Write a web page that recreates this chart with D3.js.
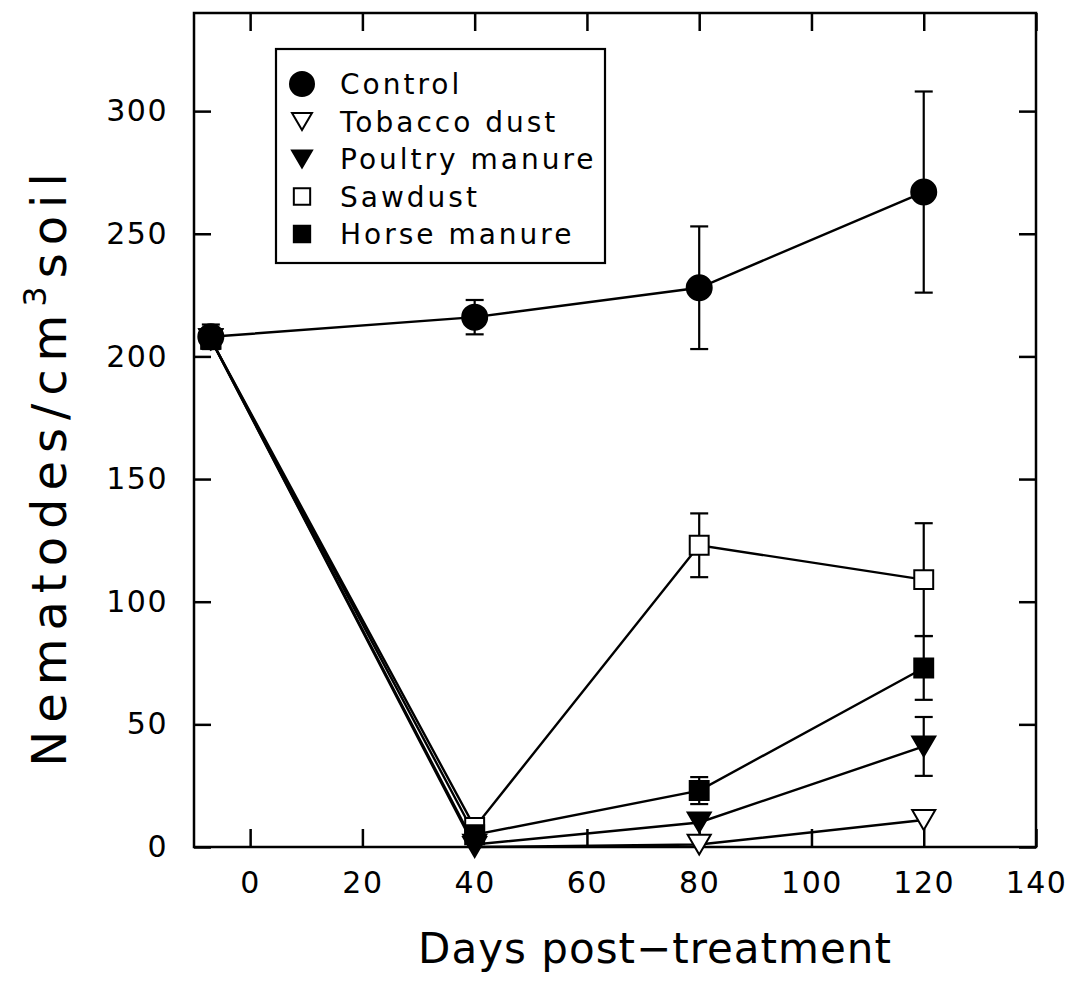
<!DOCTYPE html>
<html lang="en">
<head>
  <meta charset="UTF-8" />
  <title>Nematodes post-treatment</title>
  <script src="https://d3js.org/d3.v7.min.js"></script>
  <style>
    body { margin: 0; background: #fff; }
    svg { display: block; font-family: "DejaVu Sans", sans-serif; }
  </style>
</head>
<body>
  <svg id="chart" width="1073" height="985"></svg>

  <script>
    // values
    const days = [-7, 40, 80, 120];
    const xTicks = [0, 20, 40, 60, 80, 100, 120, 140];
    const yTicks = [0, 50, 100, 150, 200, 250, 300];

    const controlVals = [208, 216, 228, 267];
    const controlErr = [5, 7, 25, 41];
    const tobaccoVals = [207, 0, 1, 11];
    const tobaccoErr = [0, 0, 0, 0];
    const poultryVals = [207, 1, 10, 41];
    const poultryErr = [0, 0, 0, 12];
    const sawdustVals = [207, 8, 123, 109];
    const sawdustErr = [0, 0, 13, 23];
    const horseVals = [207, 5, 23, 73];
    const horseErr = [0, 0, 5.5, 13];

    const seriesNames = ['Control', 'Tobacco dust', 'Poultry manure', 'Sawdust', 'Horse manure'];
    const seriesShapes = ['circle', 'triOpen', 'triFill', 'sqOpen', 'sqFill'];
    const drawOrder = [1, 3, 4, 2, 0];

    const series = [
      { vals: controlVals, err: controlErr },
      { vals: tobaccoVals, err: tobaccoErr },
      { vals: poultryVals, err: poultryErr },
      { vals: sawdustVals, err: sawdustErr },
      { vals: horseVals, err: horseErr }
    ].map((s, i) => ({ ...s, name: seriesNames[i], shape: seriesShapes[i] }));

    const svg = d3.select('#chart');
    const plotLeft = 194, plotRight = 1036, plotTop = 13, plotBottom = 847;

    const x = d3.scaleLinear().domain([-10, 140]).range([plotLeft, plotRight]);
    const y = d3.scaleLinear().domain([0, 340]).range([plotBottom, plotTop]);

    function markerPath(shape, s) {
      if (shape === 'circle') return d3.symbol(d3.symbolCircle, Math.PI * s * s / 4)();
      if (shape.startsWith('tri')) {
        const w = s * 1.05, h = s * 0.9;
        return `M${-w / 2},${-h / 2}L${w / 2},${-h / 2}L0,${h / 2}Z`;
      }
      const h = s * 0.43;
      return `M${-h},${-h}H${h}V${h}H${-h}Z`;
    }
    const isOpen = shape => shape.endsWith('Open');

    // axes (ticks point inward)
    const fontAxis = 30;
    svg.append('g')
      .attr('transform', `translate(0,${plotBottom})`)
      .call(d3.axisBottom(x).tickValues(xTicks).tickSize(-18).tickPadding(25))
      .call(g => g.select('.domain').remove());
    svg.append('g')
      .attr('transform', `translate(0,${plotTop})`)
      .call(d3.axisTop(x).tickValues(xTicks).tickSize(-18).tickFormat(''))
      .call(g => g.select('.domain').remove());
    svg.append('g')
      .attr('transform', `translate(${plotLeft},0)`)
      .call(d3.axisLeft(y).tickValues(yTicks).tickSize(-17).tickPadding(26))
      .call(g => g.select('.domain').remove());
    svg.append('g')
      .attr('transform', `translate(${plotRight},0)`)
      .call(d3.axisRight(y).tickValues(yTicks).tickSize(-17).tickFormat(''))
      .call(g => g.select('.domain').remove());

    svg.selectAll('.tick line').attr('stroke', '#000').attr('stroke-width', 2.5);
    svg.selectAll('.tick text')
      .attr('font-size', fontAxis)
      .attr('font-family', '"DejaVu Sans", sans-serif')
      .attr('fill', '#000')
      .style('letter-spacing', '1.5px');

    svg.append('rect')
      .attr('x', plotLeft).attr('y', plotTop)
      .attr('width', plotRight - plotLeft).attr('height', plotBottom - plotTop)
      .attr('fill', 'none').attr('stroke', '#000').attr('stroke-width', 2.5);

    // lines
    const line = d3.line().x((d, i) => x(days[i])).y(d => y(d));
    const plot = svg.append('g');
    drawOrder.forEach(k => {
      plot.append('path')
        .attr('d', line(series[k].vals))
        .attr('fill', 'none')
        .attr('stroke', '#000')
        .attr('stroke-width', 2.4);
    });

    // error bars
    series.forEach(s => {
      s.vals.forEach((v, i) => {
        const e = s.err[i];
        if (!e) return;
        const cx = x(days[i]);
        const g = plot.append('g').attr('stroke', '#000').attr('stroke-width', 2.2);
        g.append('line').attr('x1', cx).attr('x2', cx).attr('y1', y(v - e)).attr('y2', y(v + e));
        [v - e, v + e].forEach(t => {
          g.append('line').attr('x1', cx - 9).attr('x2', cx + 9).attr('y1', y(t)).attr('y2', y(t));
        });
      });
    });

    // markers
    drawOrder.forEach(k => {
      const s = series[k];
      const size = s.shape === 'circle' ? 25 : 22;
      plot.selectAll(null)
        .data(s.vals)
        .join('path')
        .attr('transform', (d, i) => `translate(${x(days[i])},${y(d)})`)
        .attr('d', markerPath(s.shape, size))
        .attr('fill', isOpen(s.shape) ? '#fff' : '#000')
        .attr('stroke', '#000')
        .attr('stroke-width', 2);
    });

    // legend
    const legend = svg.append('g');
    legend.append('rect')
      .attr('x', 276).attr('y', 49).attr('width', 329).attr('height', 214)
      .attr('fill', '#fff').attr('stroke', '#000').attr('stroke-width', 2.2);
    series.forEach((s, i) => {
      const ly = 84 + i * 37.5;
      const size = s.shape === 'circle' ? 24 : 19;
      legend.append('path')
        .attr('transform', `translate(302,${ly})`)
        .attr('d', markerPath(s.shape, size))
        .attr('fill', isOpen(s.shape) ? '#fff' : '#000')
        .attr('stroke', '#000').attr('stroke-width', 2);
      legend.append('text')
        .attr('x', 340).attr('y', ly + 10)
        .attr('font-size', 28)
        .style('letter-spacing', '3px')
        .text(s.name);
    });

    // axis titles
    svg.append('text')
      .attr('x', 655).attr('y', 963)
      .attr('text-anchor', 'middle')
      .attr('font-size', 42)
      .style('letter-spacing', '1px')
      .text('Days post\u2212treatment');

    const yt = svg.append('text')
      .attr('transform', 'translate(66,466) rotate(-90)')
      .attr('text-anchor', 'middle')
      .attr('font-size', 48)
      .style('letter-spacing', '8px');
    yt.append('tspan').text('Nematodes/cm');
    yt.append('tspan').attr('font-size', 32).attr('dy', -20).text('3');
    yt.append('tspan').attr('dy', 20).text('soil');
  </script>
</body>
</html>
